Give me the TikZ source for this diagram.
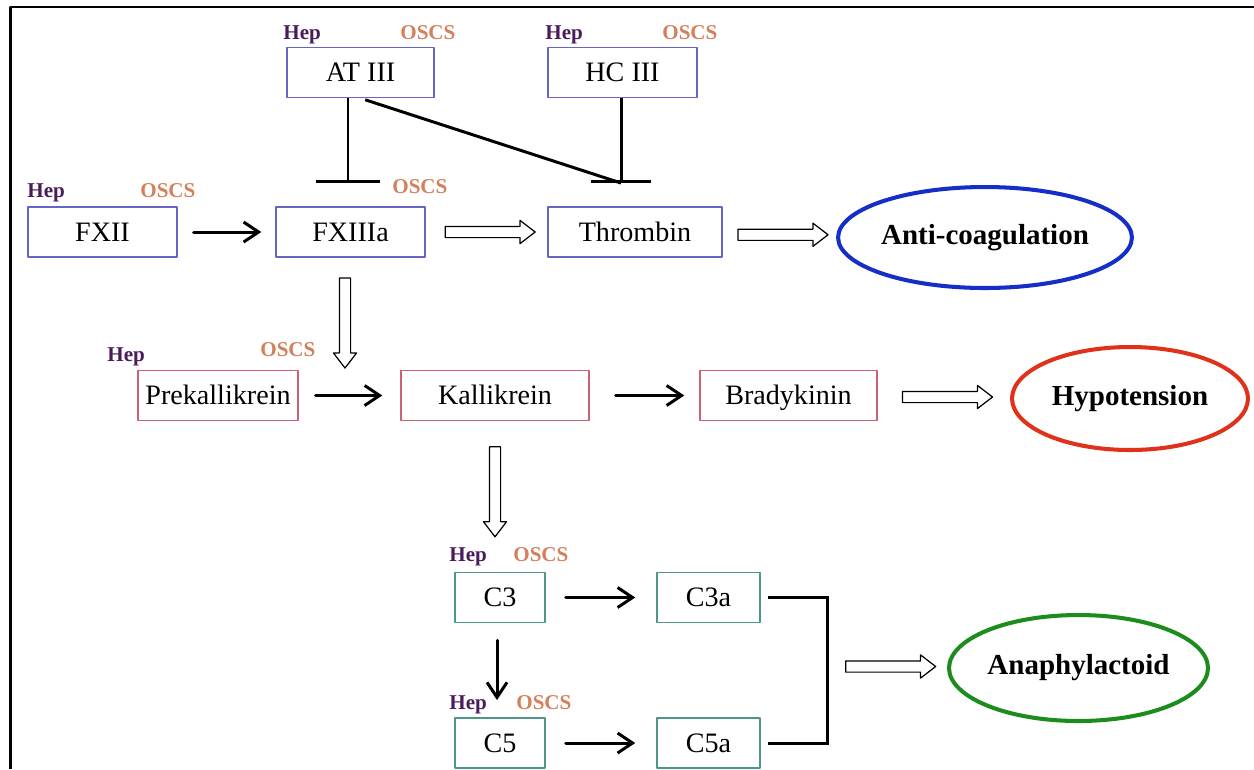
\documentclass[tikz,border=0pt]{standalone}
\usepackage{fontspec}
\setmainfont{Liberation Serif}
\usetikzlibrary{arrows.meta}
\usetikzlibrary{shapes.geometric}
\usetikzlibrary{shapes.arrows}
\definecolor{boxblue}{RGB}{104,100,196}
\definecolor{boxred}{RGB}{206,96,116}
\definecolor{boxgreen}{RGB}{78,150,136}
\definecolor{hepcol}{RGB}{74,28,92}
\definecolor{oscscol}{RGB}{212,128,92}
\definecolor{antiblue}{RGB}{22,46,200}
\definecolor{hypored}{RGB}{224,50,26}
\definecolor{anagreen}{RGB}{28,140,28}

\begin{document}
\begin{tikzpicture}[line cap=round,line join=round,x=0.02cm,y=-0.02cm,
  box/.style={draw,line width=0.85pt,minimum height=1cm,inner sep=0pt,text height=12.5pt,text depth=2pt,font=\fontsize{16}{18}\selectfont},
  fbox/.style={box,draw=boxblue},
  kbox/.style={box,draw=boxred},
  cbox/.style={box,draw=boxgreen},
  effect/.style={ellipse,line width=2.3pt,inner sep=0pt,font=\bfseries\fontsize{16.5}{18}\selectfont},
  hep/.style={anchor=base west,inner sep=0pt,text=hepcol,font=\bfseries\fontsize{12}{14}\selectfont},
  oscs/.style={anchor=base west,inner sep=0pt,text=oscscol,font=\bfseries\fontsize{12}{14}\selectfont},
  act/.style={line width=1.7pt,-{Straight Barb[length=3mm,width=4mm]}},
  harrow/.style={single arrow,draw,line width=0.7pt,fill=white,inner xsep=0pt,inner ysep=0.1cm,
    minimum height=1.8cm,single arrow head extend=0.12cm,single arrow tip angle=75},
  hollow/.style={to path={-- node[harrow,rotate=#1]{} (\tikztotarget)}},
  hollow/.default=0,
  inhib/.style={line width=1.7pt,line cap=butt}]
\useasboundingbox (0,0) rectangle (1254,769);
% frame
\draw [line width=1.2pt,line cap=butt] (10.5,769) -- (10.5,7) -- (1254,7);

% coagulation row
\node [fbox,minimum width=2.94cm] (atiii) at (360.5,72.5) {AT III};
\node [fbox,minimum width=2.98cm] (hciii) at (622.5,72.5) {HC III};
\node [fbox,minimum width=2.98cm] (fxii) at (102.5,232) {FXII};
\node [fbox,minimum width=2.98cm] (fxiiia) at (350.5,232) {FXIIIa};
\node [fbox,minimum width=3.48cm] (thrombin) at (635,232) {Thrombin};
\node [effect,draw=antiblue,minimum width=5.72cm,minimum height=2.02cm] (anti) at (985,237.5) {Anti-coagulation};

% kinin row
\node [kbox,minimum width=3.2cm] (prekal) at (218,395.5) {Prekallikrein};
\node [kbox,minimum width=3.76cm] (kal) at (495,395.5) {Kallikrein};
\node [kbox,minimum width=3.54cm] (brady) at (788.5,395.5) {Bradykinin};
\node [effect,draw=hypored,minimum width=4.72cm,minimum height=2.06cm] (hypo) at (1130,398.5) {Hypotension};

% complement
\node [cbox,minimum width=1.8cm] (cthree) at (500,597.5) {C3};
\node [cbox,minimum width=2.06cm] (cthreea) at (708.5,597.5) {C3a};
\node [cbox,minimum width=1.8cm] (cfive) at (500,743) {C5};
\node [cbox,minimum width=2.06cm] (cfivea) at (708.5,743) {C5a};
\node [effect,draw=anagreen,minimum width=5.18cm,minimum height=2.12cm] (anaph) at (1078.5,668) {Anaphylactoid};

% Hep / OSCS labels
\node [hep] (hepat) at (283,39) {Hep};
\node [oscs] (oscsat) at (400,39) {OSCS};
\node [hep] (hephc) at (545,39) {Hep};
\node [oscs] (oscshc) at (662,39) {OSCS};
\node [hep] (hepfx) at (27,197) {Hep};
\node [oscs] (oscsfx) at (140,197) {OSCS};
\node [oscs] (oscsfxa) at (392,193) {OSCS};
\node [hep] (heppk) at (107,361) {Hep};
\node [oscs] (oscspk) at (260,356) {OSCS};
\node [hep] (hepcthree) at (449,561) {Hep};
\node [oscs] (oscscthree) at (513,561) {OSCS};
\node [hep] (hepcfive) at (449,709) {Hep};
\node [oscs] (oscscfive) at (516,709) {OSCS};

% inhibition
\coordinate (xbar) at (348,183);
\coordinate (tbar) at (621,183);
\draw [inhib,-{Bar[width=1.3cm]}] (atiii.south -| xbar) -- (xbar);
\draw [inhib,-{Bar[width=1.2cm]}] (hciii.south -| tbar) -- (tbar);
\draw [inhib,shorten <=1mm] (atiii.south) -- (tbar);

% activation
\draw [act,shorten <=3.2mm,shorten >=2.8mm] (fxii) -- (fxiiia);
\draw [act,shorten <=3.4mm,shorten >=3.6mm] (prekal) -- (kal);
\draw [act,shorten <=5.2mm,shorten >=3mm] (kal) -- (brady);
\draw [act,shorten <=4mm,shorten >=4.2mm] (cthree) -- (cthreea);
\draw [act,shorten <=4mm,shorten >=4.2mm] (cfive) -- (cfivea);
\coordinate (cdown) at (497,700);
\draw [act,shorten <=3.4mm] (cthree.south -| cdown) -- (cdown);

% hollow arrows
\coordinate (kin) at (345,381);
\coordinate (ctop) at (495,555);
\coordinate (brk) at (827,665);
\path (fxiiia) to[hollow] (thrombin);
\path (thrombin.east) to[hollow] (anti.west);
\path (fxiiia.south -| kin) to[hollow=-90] (kin);
\path (brady.east) to[hollow] (hypo.west);
\path (kal.south -| ctop) to[hollow=-90] (ctop);
\path (brk) to[hollow] (anaph.west);

% bracket
\draw [inhib,line join=miter] ([xshift=1.4mm]cthreea.east) -| (brk) |- ([xshift=1.4mm]cfivea.east);
\end{tikzpicture}
\end{document}
